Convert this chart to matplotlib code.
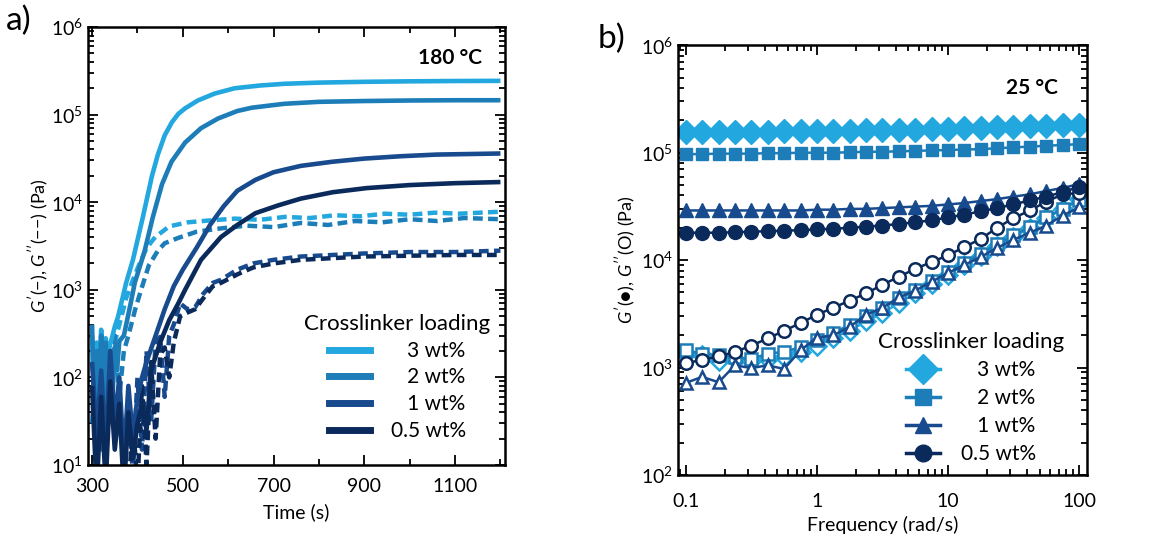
import matplotlib
matplotlib.use("Agg")
import matplotlib.pyplot as plt
from matplotlib.lines import Line2D
from matplotlib.ticker import FixedLocator, FixedFormatter

plt.rcParams['font.family'] = ['Lato', 'DejaVu Sans']
plt.rcParams['mathtext.fontset'] = 'custom'
plt.rcParams['mathtext.rm'] = 'Lato'
plt.rcParams['mathtext.it'] = 'Lato:italic'

colors = ['#22a7df', '#1c7db8', '#184a8e', '#0b2a5c']
labels = ['   3 wt%', '   2 wt%', '   1 wt%', '0.5 wt%']

# ---- panel a: time sweep at 180 C ----
t_g1_3 = [300, 305, 310, 315, 320, 325, 330, 335, 340, 345, 350, 357, 367, 375, 390, 412, 432, 445, 460, 476, 490, 505, 533, 570, 614, 670, 724, 800, 900, 1000, 1100, 1200]
g1_3 = [300, 40, 250, 90, 350, 120, 280, 180, 240, 300, 380, 490, 800, 1200, 2200, 6800, 2.0e4, 3.5e4, 5.8e4, 8.2e4, 1.02e5, 1.18e5, 1.45e5, 1.74e5, 2e5, 2.15e5, 2.25e5, 2.32e5, 2.37e5, 2.4e5, 2.42e5, 2.43e5]
t_g1_2 = [300, 305, 310, 315, 320, 325, 330, 335, 340, 345, 350, 355, 360, 370, 385, 394, 416, 434, 454, 475, 505, 540, 577, 620, 652, 724, 800, 900, 1000, 1100, 1200]
g1_2 = [400, 30, 200, 60, 300, 25, 250, 80, 200, 60, 220, 120, 260, 300, 700, 1200, 2800, 6800, 1.6e4, 2.9e4, 4.8e4, 7e4, 9e4, 1.1e5, 1.2e5, 1.33e5, 1.4e5, 1.43e5, 1.45e5, 1.46e5, 1.46e5]
t_g1_1 = [300, 310, 320, 330, 340, 350, 360, 370, 380, 390, 400, 410, 420, 440, 460, 480, 500, 530, 560, 590, 620, 660, 700, 760, 830, 900, 980, 1060, 1200]
g1_1 = [150, 20, 120, 15, 200, 30, 100, 12, 80, 20, 60, 100, 150, 300, 600, 1100, 1700, 3000, 5500, 9000, 1.35e4, 1.8e4, 2.2e4, 2.6e4, 2.9e4, 3.15e4, 3.35e4, 3.5e4, 3.6e4]
t_g1_05 = [300, 310, 320, 330, 340, 350, 360, 370, 380, 390, 400, 410, 420, 430, 450, 470, 490, 505, 540, 584, 620, 660, 710, 760, 830, 905, 1000, 1100, 1200]
g1_05 = [80, 5, 60, 6, 90, 15, 50, 5, 40, 12, 30, 50, 25, 120, 250, 450, 700, 1000, 2200, 4000, 5500, 7500, 9200, 1.1e4, 1.3e4, 1.45e4, 1.57e4, 1.65e4, 1.7e4]

t_g2_3 = [300, 310, 320, 330, 340, 350, 360, 375, 390, 401, 420, 439, 470, 511, 560, 615, 670, 725, 780, 835, 890, 945, 1000, 1055, 1110, 1200]
g2_3 = [150, 40, 200, 60, 180, 250, 400, 800, 1300, 1800, 3000, 4000, 5300, 5900, 6200, 6500, 6300, 6800, 6600, 7100, 6900, 7400, 7200, 7600, 7400, 7800]
t_g2_2 = [300, 310, 320, 330, 340, 350, 360, 370, 380, 395, 408, 425, 445, 460, 489, 530, 580, 640, 700, 760, 820, 880, 940, 1000, 1060, 1120, 1200]
g2_2 = [30, 200, 15, 150, 40, 300, 60, 200, 300, 600, 1000, 1900, 2800, 3400, 3900, 4600, 5000, 5400, 5200, 5800, 5500, 6100, 5900, 6400, 6100, 6600, 6400]
t_g2_1 = [370, 380, 390, 400, 410, 420, 430, 440, 450, 460, 470, 480, 494, 510, 527, 545, 566, 584, 620, 655, 700, 760, 830, 900, 1000, 1100, 1200]
g2_1 = [5, 40, 8, 100, 15, 200, 30, 250, 290, 60, 300, 400, 700, 600, 630, 900, 1200, 1300, 1700, 2000, 2200, 2400, 2500, 2600, 2700, 2700, 2800]
t_g2_05 = [380, 390, 400, 410, 420, 430, 440, 450, 460, 470, 480, 494, 510, 527, 545, 566, 584, 620, 655, 700, 760, 830, 900, 1000, 1100, 1200]
g2_05 = [5, 30, 6, 80, 10, 150, 20, 180, 220, 100, 250, 500, 550, 600, 800, 1100, 1200, 1500, 1800, 2000, 2200, 2300, 2400, 2450, 2500, 2500]

# ---- panel b: frequency sweep at 25 C ----
freq = [0.1, 0.133, 0.178, 0.237, 0.316, 0.422, 0.562, 0.75, 1, 1.33, 1.78, 2.37, 3.16, 4.22, 5.62, 7.5, 10, 13.3, 17.8, 23.7, 31.6, 42.2, 56.2, 75, 100]
gp_3 = [1.55e5, 1.55e5, 1.56e5, 1.56e5, 1.57e5, 1.57e5, 1.58e5, 1.58e5, 1.59e5, 1.6e5, 1.6e5, 1.61e5, 1.62e5, 1.63e5, 1.64e5, 1.65e5, 1.66e5, 1.68e5, 1.7e5, 1.72e5, 1.74e5, 1.76e5, 1.78e5, 1.8e5, 1.82e5]
gp_2 = [9.7e4, 9.7e4, 9.8e4, 9.8e4, 9.8e4, 9.9e4, 9.9e4, 1e5, 1e5, 1e5, 1.01e5, 1.02e5, 1.02e5, 1.03e5, 1.04e5, 1.05e5, 1.06e5, 1.07e5, 1.08e5, 1.1e5, 1.12e5, 1.14e5, 1.16e5, 1.18e5, 1.2e5]
gp_1 = [2.9e4, 2.9e4, 2.9e4, 2.9e4, 2.9e4, 2.9e4, 2.9e4, 2.9e4, 2.95e4, 2.95e4, 3e4, 3e4, 3.05e4, 3.1e4, 3.15e4, 3.2e4, 3.3e4, 3.4e4, 3.55e4, 3.7e4, 3.9e4, 4.1e4, 4.4e4, 4.7e4, 5.1e4]
gp_05 = [1.8e4, 1.8e4, 1.8e4, 1.82e4, 1.84e4, 1.86e4, 1.88e4, 1.9e4, 1.93e4, 1.96e4, 2e4, 2.05e4, 2.1e4, 2.17e4, 2.25e4, 2.35e4, 2.5e4, 2.65e4, 2.85e4, 3.05e4, 3.3e4, 3.6e4, 3.9e4, 4.3e4, 4.8e4]
gpp_3 = [1350, 1300, 1150, 1200, 1150, 1200, 1250, 1400, 1600, 1900, 2200, 2700, 3200, 4000, 4900, 6000, 7300, 9000, 1.1e4, 1.35e4, 1.65e4, 2e4, 2.45e4, 3e4, 3.7e4]
gpp_2 = [1450, 1350, 1300, 1250, 1200, 1350, 1400, 1550, 1800, 2100, 2500, 3000, 3600, 4400, 5300, 6400, 7800, 9500, 1.15e4, 1.4e4, 1.7e4, 2.05e4, 2.5e4, 3e4, 3.6e4]
gpp_1 = [720, 820, 730, 1050, 990, 1050, 970, 1450, 1900, 1990, 2400, 3100, 3600, 4500, 5200, 6300, 7600, 9000, 1.07e4, 1.3e4, 1.55e4, 1.8e4, 2.1e4, 2.6e4, 3.1e4]
gpp_05 = [1100, 1180, 1270, 1400, 1600, 1870, 2200, 2600, 3100, 3600, 4200, 4900, 5900, 7000, 8300, 9600, 1.11e4, 1.32e4, 1.58e4, 2e4, 2.46e4, 2.9e4, 3.5e4, 4.1e4, 4.2e4]

fig = plt.figure(figsize=(11.49, 5.44), dpi=100)
ax1 = fig.add_axes([0.0766, 0.1452, 0.3629, 0.8051])
ax2 = fig.add_axes([0.590, 0.1268, 0.356, 0.790])

# panel a
solid = [(t_g1_3, g1_3), (t_g1_2, g1_2), (t_g1_1, g1_1), (t_g1_05, g1_05)]
dashed = [(t_g2_3, g2_3), (t_g2_2, g2_2), (t_g2_1, g2_1), (t_g2_05, g2_05)]
for (t, g), c in zip(dashed, colors):
    ax1.plot(t, g, color=c, lw=3.2, ls=(0, (2.2, 1.2)))
for (t, g), c in zip(solid, colors):
    ax1.plot(t, g, color=c, lw=3.3, solid_capstyle='butt')

ax1.set_yscale('log')
ax1.set_xlim(291, 1210)
ax1.set_ylim(10, 1e6)
ax1.xaxis.set_major_locator(FixedLocator([300, 500, 700, 900, 1100]))
ax1.xaxis.set_minor_locator(FixedLocator([400, 600, 800, 1000, 1200]))
ax1.set_xlabel('Time (s)', fontsize=14, labelpad=6)
ax1.set_ylabel("$G'$(\u2212), $G''$(\u2212\u2212) (Pa)", fontsize=13, labelpad=0)
ax1.text(0.945, 0.93, '180 °C', transform=ax1.transAxes, ha='right', va='center',
         fontsize=15, fontweight='bold')
fig.text(0.005, 0.962, 'a)', fontsize=24, va='center')

h1 = [Line2D([], [], color=c, lw=5) for c in colors]
ax1.legend(h1, labels, title='Crosslinker loading', loc='lower right',
           bbox_to_anchor=(1.0, 0.022), frameon=False, fontsize=15, title_fontsize=16,
           handlelength=2.0, handletextpad=1.0, labelspacing=0.32, borderpad=0.2)

# panel b
fmarkers = ['D', 's', '^', 'o']
fsizes = [12, 8, 10, 10]
osizes = [9, 9, 9, 9]
gp = [gp_3, gp_2, gp_1, gp_05]
gpp = [gpp_3, gpp_2, gpp_1, gpp_05]
for g, c, m, s in zip(gpp, colors, fmarkers, osizes):
    ax2.plot(freq, g, color=c, lw=1.8, marker=m, ms=s, mfc='white', mec=c, mew=1.8)
for g, c, m, s in zip(gp, colors, fmarkers, fsizes):
    ax2.plot(freq, g, color=c, lw=1.8, marker=m, ms=s, mfc=c, mec=c)

ax2.set_xscale('log')
ax2.set_yscale('log')
ax2.set_xlim(0.087, 115)
ax2.set_ylim(100, 1e6)
ax2.xaxis.set_major_locator(FixedLocator([0.1, 1, 10, 100]))
ax2.xaxis.set_major_formatter(FixedFormatter(['0.1', '1', '10', '100']))
ax2.set_xlabel('Frequency (rad/s)', fontsize=14, labelpad=4)
ax2.set_ylabel("$G'$(\u25cf), $G''$(O) (Pa)", fontsize=13, labelpad=2)
ax2.text(0.93, 0.9, '25 °C', transform=ax2.transAxes, ha='right', va='center',
         fontsize=15, fontweight='bold')
fig.text(0.52, 0.928, 'b)', fontsize=24, va='center')

h2 = [Line2D([], [], color=c, lw=2.5, marker=m, ms=s, mfc=c, mec=c)
      for c, m, s in zip(colors, fmarkers, [15, 11, 11, 12])]
ax2.legend(h2, labels, title='Crosslinker loading', loc='lower right',
           bbox_to_anchor=(0.98, -0.008), frameon=False, fontsize=15, title_fontsize=16,
           handlelength=1.6, handletextpad=1.0, labelspacing=0.38, borderpad=0.2)

for ax in (ax1, ax2):
    ax.tick_params(which='both', direction='in', top=True, right=True, labelsize=14, width=1.3)
    ax.tick_params(which='major', length=7)
    ax.tick_params(which='minor', length=4)
    for sp in ax.spines.values():
        sp.set_linewidth(1.8)
ax1.tick_params(axis='x', which='major', pad=9)
ax2.tick_params(axis='x', which='major', pad=13)

fig.savefig('out.png', dpi=100)
